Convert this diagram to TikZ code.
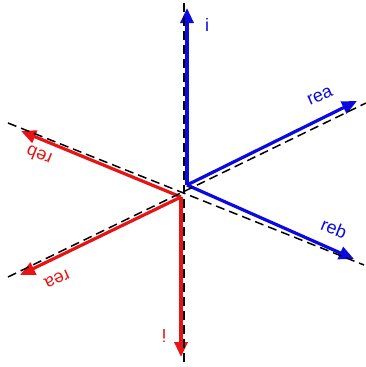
\documentclass[tikz,border=0pt]{standalone}
\usepackage{fontspec}
\setmainfont{Liberation Sans}
\usetikzlibrary{arrows.meta}
\definecolor{vblue}{RGB}{10,10,225}
\definecolor{vred}{RGB}{230,20,20}
\begin{document}
\begin{tikzpicture}[x=1pt,y=1pt,
  vec/.style={line width=3.2pt,-{Triangle[length=15pt,width=13pt]}},
  axis/.style={black,line width=1.5pt,dash pattern=on 9pt off 5pt},
  lbl/.style={font=\fontsize{18}{20}\selectfont,inner sep=0pt}]
\useasboundingbox (0,0) rectangle (366,-367);
% origins
\coordinate (ob) at (187,-185);
\coordinate (or) at (181,-197);
% tips
\coordinate (bi) at (187,-8);
\coordinate (brea) at (357,-101);
\coordinate (breb) at (354,-259);
\coordinate (ri) at (181,-357);
\coordinate (rreb) at (21,-131);
\coordinate (rrea) at (20,-275);
% dashed axis ends
\coordinate (v1) at (184,-3);
\coordinate (v2) at (184,-362);
\coordinate (a1) at (8,-123);
\coordinate (a2) at (364,-265);
\coordinate (b1) at (8,-277);
\coordinate (b2) at (366,-103);
% vectors
\draw[vec,vblue] (ob) -- (bi);
\draw[vec,vblue] (ob) -- (brea);
\draw[vec,vblue] (ob) -- (breb);
\draw[vec,vred] (or) -- (ri);
\draw[vec,vred] (or) -- (rreb);
\draw[vec,vred] (or) -- (rrea);
% dashed axes
\draw[axis] (v1) -- (v2);
\draw[axis] (a1) -- (a2);
\draw[axis] (b1) -- (b2);
% labels
\node[lbl,vblue] (li) at (207,-25) {i};
\node[lbl,vblue,rotate=24] (lrea) at (320,-96) {rea};
\node[lbl,vblue,rotate=-22] (lreb) at (334,-228) {reb};
\node[lbl,vred,rotate=180] (lri) at (164,-336) {i};
\node[lbl,vred,rotate=158] (lrreb) at (39,-156) {reb};
\node[lbl,vred,rotate=204] (lrrea) at (57,-279) {rea};
\end{tikzpicture}
\end{document}
